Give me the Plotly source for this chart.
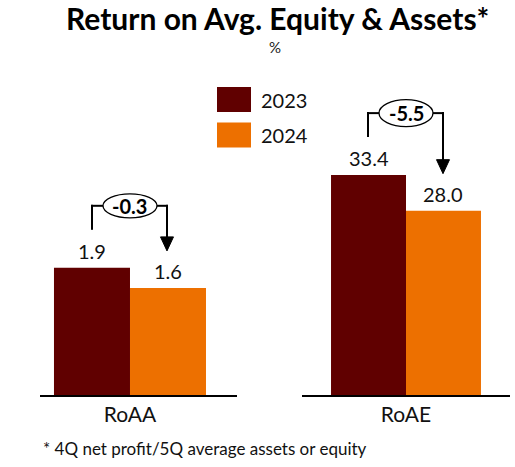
import plotly.graph_objects as go

categories = ["RoAA", "RoAE"]
years = ["2023", "2024"]
values_2023 = [1.9, 33.4]
values_2024 = [1.6, 28.0]
delta_labels = ["-0.3", "-5.5"]
value_labels_2023 = ["1.9", "33.4"]
value_labels_2024 = ["1.6", "28.0"]

title_text = "Return on Avg. Equity & Assets*"
unit_text = "%"
footnote_text = "* 4Q net profit/5Q average assets or equity"

colors = ["#600000", "#ED7000"]
FONT = "Lato"
W, H = 515, 467
BASE_PX = 395  # baseline pixel row

xdomains = [[40 / W, 237 / W], [302 / W, 510 / W]]
xranges = [[-1.184, 1.408], [-1.387, 1.387]]
yranges = [[0, 5.9], [0, 60]]
ydom = [(H - BASE_PX) / H, 1]
ellipse_h = [24, 27]

fig = go.Figure()

for i, cat in enumerate(categories):
    sfx = "" if i == 0 else str(i + 1)
    xa, ya = "x" + sfx, "y" + sfx
    for j, vals in enumerate([values_2023, values_2024]):
        fig.add_trace(go.Bar(
            x=[-0.5 if j == 0 else 0.5], y=[vals[i]], width=1,
            marker=dict(color=colors[j], line=dict(width=0)),
            xaxis=xa, yaxis=ya, showlegend=False, hoverinfo="skip",
        ))
    # value labels
    for j, (vals, labs) in enumerate([(values_2023, value_labels_2023), (values_2024, value_labels_2024)]):
        fig.add_annotation(x=-0.5 if j == 0 else 0.5, y=vals[i], xref=xa, yref=ya,
                           text=labs[i], showarrow=False, yshift=17,
                           font=dict(family=FONT, size=20, color="#111"))
    # bracket
    v23, v24 = values_2023[i], values_2024[i]
    scale = (BASE_PX) / (yranges[i][1] - yranges[i][0])
    top = 62
    rise = (v23 - v24) * scale + top
    eh = ellipse_h[i] / 2
    line = dict(color="black", width=2)
    common = dict(xref=xa, yref=ya, xsizemode="pixel", xanchor=0, ysizemode="pixel")
    fig.add_shape(type="line", x0=-38, x1=-38, yanchor=v23, y0=38, y1=top + 1, line=line, **common)
    fig.add_shape(type="line", x0=-39, x1=-27, yanchor=v23, y0=top, y1=top, line=line, **common)
    fig.add_shape(type="line", x0=27, x1=38, yanchor=v23, y0=top, y1=top, line=line, **common)
    fig.add_shape(type="line", x0=37, x1=37, yanchor=v24, y0=50, y1=rise + 1, line=line, **common)
    fig.add_shape(type="path", path="M 30.5,51 L 43.5,51 L 37,37 Z", yanchor=v24,
                  fillcolor="black", line=dict(color="black", width=1), **common)
    fig.add_shape(type="circle", x0=-27, x1=27, yanchor=v23, y0=top - eh, y1=top + eh,
                  line=dict(color="black", width=1.3), fillcolor="white", **common)
    fig.add_annotation(x=0, y=v23, xref=xa, yref=ya, yshift=top, text="<b>%s</b>" % delta_labels[i],
                       showarrow=False, font=dict(family=FONT, size=20, color="black"))

layout_axes = {}
for i, cat in enumerate(categories):
    sfx = "" if i == 0 else str(i + 1)
    layout_axes["xaxis" + sfx] = dict(
        domain=xdomains[i], range=xranges[i], tickvals=[0], ticktext=[cat],
        showline=True, linecolor="black", linewidth=1.5, showgrid=False, zeroline=False,
        ticks="", tickfont=dict(family=FONT, size=21, color="#111"), ticklabelstandoff=0,
        anchor="y" + sfx, fixedrange=True,
    )
    layout_axes["yaxis" + sfx] = dict(
        domain=ydom, range=yranges[i], visible=False, showgrid=False, zeroline=False,
        anchor="x" + sfx, fixedrange=True,
    )

fig.update_layout(
    width=W, height=H, margin=dict(l=0, r=0, t=0, b=0),
    paper_bgcolor="white", plot_bgcolor="white", barmode="overlay",
    showlegend=False, **layout_axes,
)

# title, unit, footnote
fig.add_annotation(x=277 / W, y=1 - 18 / H, xref="paper", yref="paper", text="<b>%s</b>" % title_text,
                   showarrow=False, xanchor="center", yanchor="middle",
                   font=dict(family=FONT, size=30, color="black"))
fig.add_annotation(x=275 / W, y=1 - 47 / H, xref="paper", yref="paper", text=unit_text,
                   showarrow=False, xanchor="center", yanchor="middle",
                   font=dict(family=FONT, size=15, color="#222"))
fig.add_annotation(x=41 / W, y=1 - 448 / H, xref="paper", yref="paper", text=footnote_text,
                   showarrow=False, xanchor="left", yanchor="middle",
                   font=dict(family=FONT, size=17, color="#111"))

# legend
for j, yr in enumerate(years):
    yc = [99.5, 135][j]
    fig.add_shape(type="rect", xref="paper", yref="paper", x0=217 / W, x1=251 / W,
                  y0=1 - (yc + 12.5) / H, y1=1 - (yc - 12.5) / H,
                  fillcolor=colors[j], line=dict(width=0))
    fig.add_annotation(x=259 / W, y=1 - yc / H, xref="paper", yref="paper", text=yr,
                       showarrow=False, xanchor="left", yanchor="middle",
                       font=dict(family=FONT, size=20, color="#111"))

fig.write_html("out.html", post_script="document.body.style.margin='0';",
               config={"displayModeBar": False, "staticPlot": True})
